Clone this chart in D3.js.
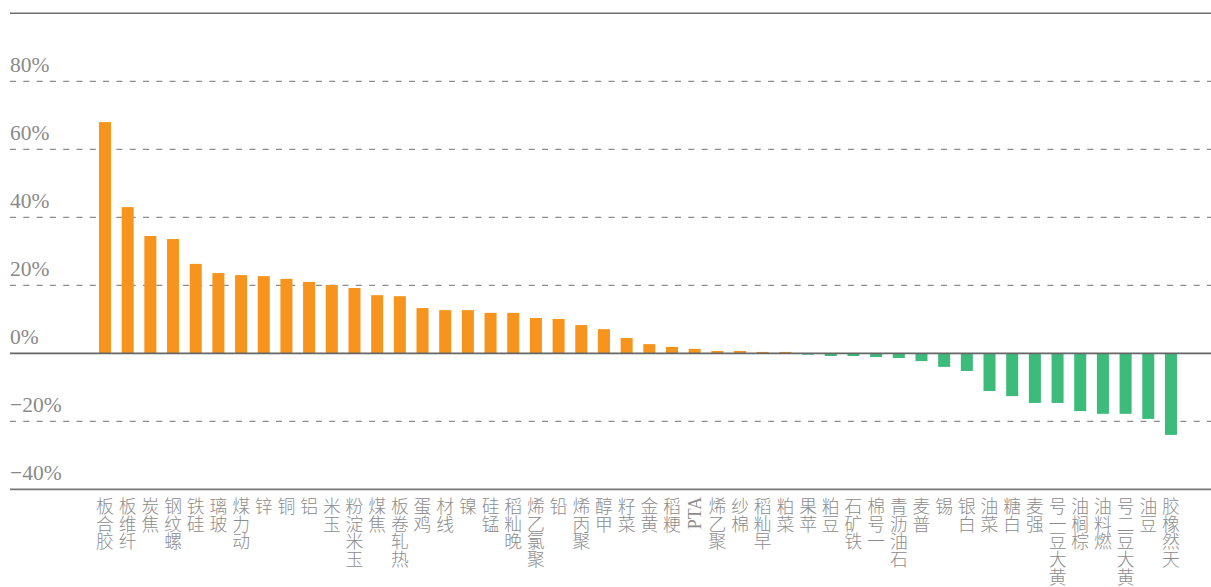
<!DOCTYPE html>
<html>
<head>
<meta charset="utf-8">
<script src="https://cdn.jsdelivr.net/npm/d3@7"></script>
<style>
  html, body { margin: 0; padding: 0; background: #fff; }
  svg { display: block; }
</style>
</head>
<body>
<svg id="chart" width="1211" height="587"></svg>
<script>
// Commodity futures: period return (%)
const categories = [
  "胶合板", "纤维板", "焦炭", "螺纹钢", "硅铁", "玻璃", "动力煤", "锌", "铜", "铝",
  "玉米", "玉米淀粉", "焦煤", "热轧卷板", "鸡蛋", "线材", "镍", "锰硅", "晚籼稻", "聚氯乙烯",
  "铅", "聚丙烯", "甲醇", "菜籽", "黄金", "粳稻", "PTA", "聚乙烯", "棉纱", "早籼稻",
  "菜粕", "苹果", "豆粕", "铁矿石", "一号棉", "石油沥青", "普麦", "锡", "白银", "菜油",
  "白糖", "强麦", "黄大豆一号", "棕榈油", "燃料油", "黄大豆二号", "豆油", "天然橡胶"
];
const returns = [
  68.0, 43.0, 34.5, 33.6, 26.3, 23.6, 23.0, 22.7, 21.9, 21.0,
  20.1, 19.2, 17.1, 16.8, 13.3, 12.7, 12.7, 11.9, 11.9, 10.4,
  10.1, 8.3, 7.1, 4.5, 2.7, 1.9, 1.3, 0.7, 0.7, 0.4,
  0.4, -0.4, -0.8, -0.8, -1.1, -1.4, -2.3, -4.0, -5.2, -11.1,
  -12.6, -14.6, -14.6, -17.0, -17.8, -17.8, -19.3, -24.0
];
const yTicks = [80, 60, 40, 20, 0, -20, -40];
const yDomain = [-40, 100];

const W = 1211;
const svg = d3.select("#chart");

const x = d3.scaleBand()
  .domain(categories)
  .range([93.66, 1182.3])
  .paddingInner(0.47)
  .paddingOuter(0.235);

const y = d3.scaleLinear().domain(yDomain).range([489.3, 13.3]);

const left = 10;
const gray = "#8a8a8a";

// dashed gridlines (solid rules are drawn for the top, zero and bottom)
svg.append("g")
  .selectAll("line")
  .data(yTicks.filter(t => t !== 0 && t !== yDomain[0]))
  .join("line")
  .attr("x1", left).attr("x2", W)
  .attr("y1", d => y(d)).attr("y2", d => y(d))
  .attr("stroke", "#8c8c8c")
  .attr("stroke-width", 1.3)
  .attr("stroke-dasharray", "6 7.3");

// bars
svg.append("g")
  .selectAll("rect")
  .data(categories.map((c, i) => ({ c, v: returns[i] })))
  .join("rect")
  .attr("x", d => x(d.c))
  .attr("width", x.bandwidth())
  .attr("y", d => y(Math.max(0, d.v)))
  .attr("height", d => Math.abs(y(d.v) - y(0)))
  .attr("fill", d => d.v >= 0 ? "#F7941E" : "#3CBB7B");

// solid rules
const rules = [
  { v: yDomain[1], w: 1.4, c: "#6e6e6e" },
  { v: 0, w: 1.8, c: "#666" },
  { v: yDomain[0], w: 1.8, c: "#777" }
];
svg.append("g")
  .selectAll("line")
  .data(rules)
  .join("line")
  .attr("x1", left).attr("x2", W)
  .attr("y1", d => y(d.v)).attr("y2", d => y(d.v))
  .attr("stroke", d => d.c)
  .attr("stroke-width", d => d.w);

// y tick labels sit just above their gridline
const fmt = v => (v < 0 ? "\u2212" + Math.abs(v) : String(v)) + "%";
svg.append("g")
  .selectAll("text")
  .data(yTicks)
  .join("text")
  .attr("x", left)
  .attr("y", d => y(d) - 9.5)
  .attr("fill", gray)
  .attr("font-family", "'Liberation Serif', serif")
  .attr("font-size", 21.5)
  .text(fmt);

// category labels: read bottom-to-top, CJK glyphs kept upright
const fs = 17.8;
const isCJK = ch => /[\u3400-\u9fff]/.test(ch);
svg.append("g")
  .selectAll("text")
  .data(categories)
  .join("text")
  .attr("transform", d => {
    const cx = x(d) + x.bandwidth() / 2;
    const allLatin = !Array.from(d).some(isCJK);
    const bx = allLatin ? cx + 0.36 * fs : cx - 0.5 * fs;
    return `translate(${bx},${allLatin ? 497 : 495}) rotate(-90)`;
  })
  .attr("text-anchor", "end")
  .attr("rotate", d => Array.from(d).map(ch => isCJK(ch) ? 90 : 0).join(" "))
  .attr("fill", "#8c8c8c")
  .attr("font-weight", 300)
  .attr("font-family", "'Liberation Serif', 'Noto Sans CJK SC', serif")
  .attr("font-size", fs)
  .text(d => d);
</script>
</body>
</html>
